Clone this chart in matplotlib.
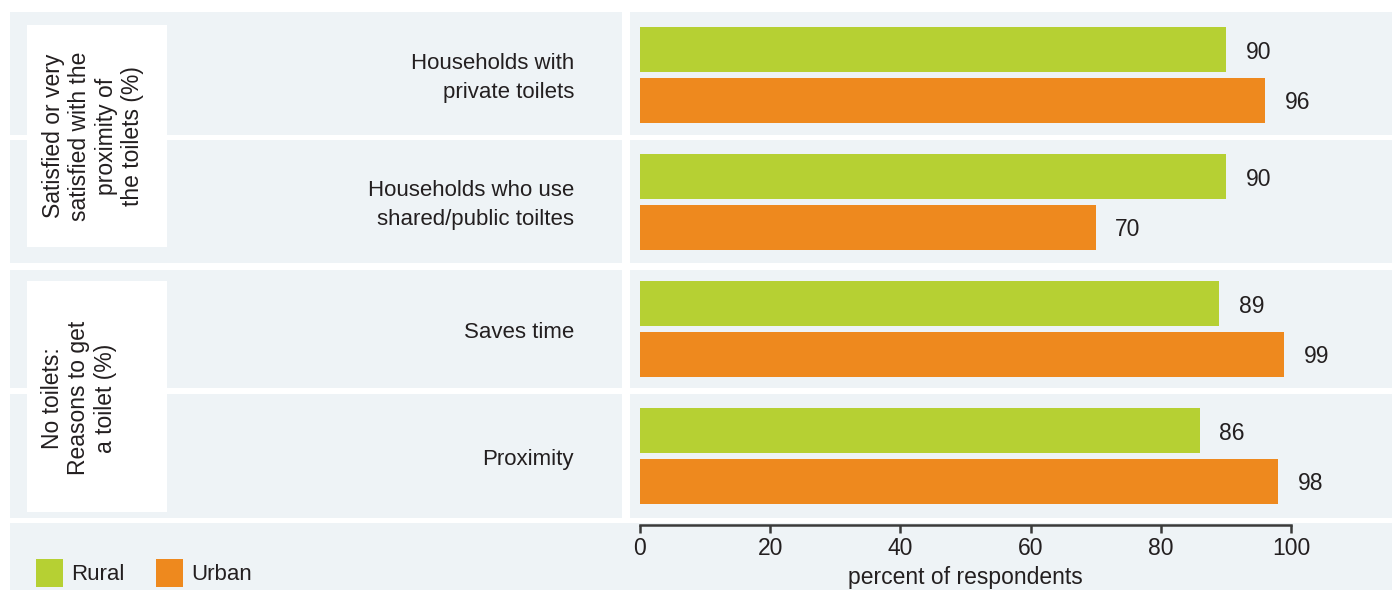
import numpy as np
import matplotlib.pyplot as plt
from matplotlib.patches import Rectangle

plt.rcParams['font.family'] = ['Liberation Sans', 'DejaVu Sans']

# survey results, percent of respondents
categories = ['Households with\nprivate toilets',
              'Households who use\nshared/public toiltes',
              'Saves time',
              'Proximity']
rural = [90, 90, 89, 86]
urban = [96, 70, 99, 98]
series_names = ['Rural', 'Urban']
group_titles = ['Satisfied or very\nsatisfied with the\nproximity of\nthe toilets (%)',
                'No toilets:\nReasons to get\na toilet (%)']
xticks = [0, 20, 40, 60, 80, 100]
xlabel = 'percent of respondents'

GREEN = '#b6d033'
ORANGE = '#ee891e'
PANEL = '#eef3f6'
TEXT = '#231f20'

W, H = 1392, 590
fig = plt.figure(figsize=(W / 100, H / 100), dpi=100)


def fx(px):
    return px / W


def fy(py):
    # pixel rows are counted from the top
    return 1 - py / H


def panel(x0, y0, x1, y1, color=PANEL):
    fig.patches.append(Rectangle((fx(x0), fy(y1)), fx(x1 - x0), (y1 - y0) / H,
                                 transform=fig.transFigure, color=color,
                                 zorder=-2, lw=0))


# light background strips for every row
rows = [(12, 135), (140, 263), (270, 388), (394, 518)]
for top, bot in rows:
    panel(10, top, 622, bot)
    panel(630, top, 1392, bot)
panel(10, 523, 1392, 590)

# white boxes holding the group titles
panel(27, 25, 167, 247, 'white')
panel(27, 281, 167, 512, 'white')
fig.text(fx(93), fy(136), group_titles[0], rotation=90, ha='center', va='center',
         fontsize=16.5, color=TEXT, linespacing=1.18)
fig.text(fx(79), fy(398), group_titles[1], rotation=90, ha='center', va='center',
         fontsize=16.5, color=TEXT, linespacing=1.18)

# bar axes
ax = fig.add_axes([fx(630), fy(518), fx(1392 - 630), (518 - 12) / H])
ax.patch.set_visible(False)
px_per_unit = (1291 - 640) / 100
xmin, xmax = -10 / px_per_unit, (1392 - 640) / px_per_unit
ax.set_xlim(xmin, xmax)
ax.set_ylim((518 - 75) / 127, -(75 - 12) / 127)

y = np.arange(len(categories))
bh = 0.36
off = 0.2
b1 = ax.barh(y - off, rural, height=bh, color=GREEN, label=series_names[0])
b2 = ax.barh(y + off, urban, height=bh, color=ORANGE, label=series_names[1])

for bars, vals in [(b1, rural), (b2, urban)]:
    for rect, v in zip(bars, vals):
        ax.text(v + 3.0, rect.get_y() + rect.get_height() / 2 + 0.02, str(v),
                ha='left', va='center', fontsize=16.5, color=TEXT)

# category labels sit in the left strips
for i, cat in enumerate(categories):
    fig.text(fx(574), fy(78 + 127 * i), cat, ha='right', va='center',
             fontsize=16, color=TEXT, linespacing=1.5)

for s in ['top', 'right', 'left']:
    ax.spines[s].set_visible(False)
ax.spines['bottom'].set_position(('outward', 5))
ax.spines['bottom'].set_bounds(0, 100)
ax.spines['bottom'].set_linewidth(1.8)
ax.spines['bottom'].set_color('#3a3a3a')
ax.set_yticks([])
ax.set_xticks(xticks)
ax.tick_params(axis='x', direction='out', length=5.5, width=1.8, color='#3a3a3a',
               labelsize=16.5, labelcolor=TEXT, pad=3)
ax.set_xlabel(xlabel, fontsize=16.5, color=TEXT)
# centre the axis title under the 0-100 scale
ax.xaxis.set_label_coords((50 - xmin) / (xmax - xmin), (518 - 566) / 506)

fig.legend(handles=[b1, b2], labels=series_names, loc='center left',
           bbox_to_anchor=(fx(27), fy(573)), frameon=False, ncol=2,
           fontsize=16, handlelength=1.2, handleheight=1.6, handletextpad=0.4,
           columnspacing=1.4, labelcolor=TEXT, borderaxespad=0)

fig.savefig('out.png', dpi=100)
